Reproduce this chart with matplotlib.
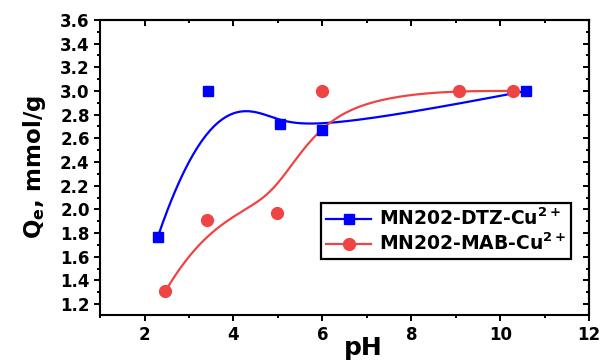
import numpy as np
import matplotlib
matplotlib.use("Agg")
import matplotlib.pyplot as plt
from matplotlib.lines import Line2D
from matplotlib.ticker import MultipleLocator

# data
ph_dtz = [2.3, 3.42, 5.05, 6.0, 10.58]
qe_dtz = [1.77, 3.0, 2.72, 2.67, 3.0]
ph_mab = [2.47, 3.41, 4.97, 5.99, 9.08, 10.29]
qe_mab = [1.31, 1.91, 1.97, 3.0, 3.0, 3.0]

blue = "#0000ff"
red = "#ef4444"


def bspline(xs, ys, k=3, n=300):
    # clamped B-spline using the data points as control points (Origin style)
    pts = np.column_stack([xs, ys])
    m = len(pts)
    inner = np.linspace(0, 1, m - k + 1)[1:-1]
    knots = np.concatenate([np.zeros(k + 1), inner, np.ones(k + 1)])
    t = np.linspace(0, 1, n)
    t[-1] -= 1e-10
    out = []
    for tv in t:
        N = np.array([1.0 if knots[i] <= tv < knots[i + 1] else 0.0
                      for i in range(len(knots) - 1)])
        for d in range(1, k + 1):
            Nn = np.zeros(len(knots) - 1 - d)
            for i in range(len(Nn)):
                a = 0.0
                if knots[i + d] != knots[i]:
                    a += (tv - knots[i]) / (knots[i + d] - knots[i]) * N[i]
                if knots[i + d + 1] != knots[i + 1]:
                    a += (knots[i + d + 1] - tv) / (knots[i + d + 1] - knots[i + 1]) * N[i + 1]
                Nn[i] = a
            N = Nn
        out.append(N @ pts)
    out = np.array(out)
    return out[:, 0], out[:, 1]


plt.rcParams["font.family"] = "DejaVu Sans"
plt.rcParams["font.weight"] = "bold"

fig = plt.figure(figsize=(6.03, 3.61), dpi=100)
ax = fig.add_axes([0.166, 0.127, 0.811, 0.818])

bx, by = bspline(ph_dtz, qe_dtz)
rx, ry = bspline(ph_mab, qe_mab)
ax.plot(bx, by, color=blue, lw=1.6)
ax.plot(rx, ry, color=red, lw=1.6)
ax.plot(ph_dtz, qe_dtz, "s", color=blue, ms=7.5, mec=blue)
ax.plot(ph_mab, qe_mab, "o", color=red, ms=8.5, mec=red)

ax.set_xlim(1, 12)
ax.set_ylim(1.107, 3.6)
ax.xaxis.set_major_locator(MultipleLocator(2))
ax.xaxis.set_minor_locator(MultipleLocator(1))
ax.yaxis.set_minor_locator(MultipleLocator(0.1))
ax.set_yticks(np.arange(1.2, 3.61, 0.2))
ax.set_yticklabels([f"{v:.1f}" for v in np.arange(1.2, 3.61, 0.2)])

for s in ax.spines.values():
    s.set_linewidth(1.5)
ax.tick_params(which="both", direction="out", width=1.4, labelsize=12)
ax.tick_params(which="major", length=4)
ax.tick_params(which="minor", length=2.5)

top = ax.secondary_xaxis("top")
top.xaxis.set_major_locator(MultipleLocator(2))
top.xaxis.set_minor_locator(MultipleLocator(1))
top.tick_params(which="both", direction="in", labeltop=False, width=1.4)
top.tick_params(which="major", length=4)
top.tick_params(which="minor", length=2.5)
right = ax.secondary_yaxis("right")
right.yaxis.set_major_locator(MultipleLocator(0.2))
right.yaxis.set_minor_locator(MultipleLocator(0.1))
right.tick_params(which="both", direction="in", labelright=False, width=1.4)
right.tick_params(which="major", length=4)
right.tick_params(which="minor", length=2.5)
top.spines["top"].set_linewidth(1.5)
right.spines["right"].set_linewidth(1.5)

ax.set_xlabel("pH", fontsize=18, fontweight="bold")
ax.xaxis.set_label_coords(0.538, -0.072)
ax.set_ylabel("Q$_\\mathbf{e}$, mmol/g", fontsize=16.5, fontweight="bold", labelpad=9)

handles = [
    Line2D([], [], color=blue, lw=1.6, marker="s", ms=7.5),
    Line2D([], [], color=red, lw=1.6, marker="o", ms=8.5),
]
labels = ["MN202-DTZ-Cu$^{\\mathbf{2+}}$", "MN202-MAB-Cu$^{\\mathbf{2+}}$"]
leg = ax.legend(handles, labels, loc="lower right", bbox_to_anchor=(0.962, 0.19),
                prop={"size": 13.5, "weight": "bold"}, fancybox=False,
                edgecolor="black", framealpha=1, borderpad=0.25, borderaxespad=0,
                handlelength=2.4, handletextpad=0.4, labelspacing=0.2)
leg.get_frame().set_linewidth(1.6)

fig.savefig("out.png", dpi=100)
